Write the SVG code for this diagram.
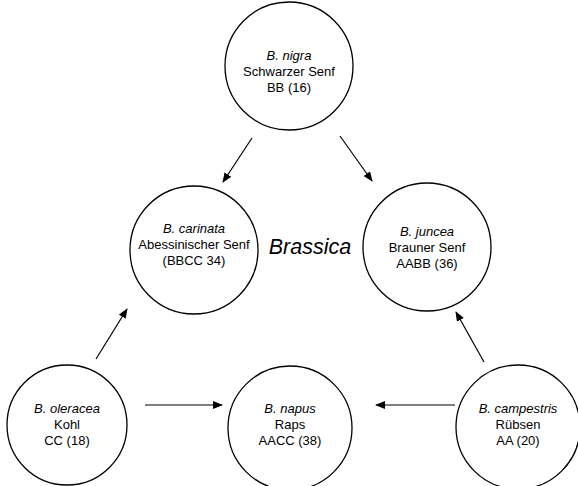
<svg xmlns="http://www.w3.org/2000/svg" width="578" height="486" viewBox="0 0 578 486">
<defs>
<marker id="ah" markerWidth="10" markerHeight="8" refX="9" refY="4" orient="auto" markerUnits="userSpaceOnUse">
<path d="M0,0 L10,4 L0,8 Z" fill="#000"/>
</marker>
<style>
.n{fill:#fff;stroke:#000;stroke-width:1.3}
.t{font-family:"Liberation Sans",Arial,sans-serif;font-size:13px;text-anchor:middle;fill:#000}
.i{font-style:italic}
.c{stroke:#000;stroke-width:1.2;fill:none;marker-end:url(#ah)}
</style>
</defs>
<rect width="578" height="486" fill="#fff"/>
<g id="connectors">
<line class="c" x1="252" y1="138" x2="223" y2="182"/>
<line class="c" x1="340" y1="136" x2="372" y2="181"/>
<line class="c" x1="96" y1="359" x2="127" y2="309"/>
<line class="c" x1="484" y1="362" x2="456" y2="312"/>
<line class="c" x1="145" y1="405" x2="222" y2="405"/>
<line class="c" x1="455" y1="405" x2="376" y2="405"/>
</g>
<g id="nigra">
<circle class="n" cx="289" cy="66" r="64"/>
<text class="t i" x="289" y="60">B. nigra</text>
<text class="t" x="289" y="76">Schwarzer Senf</text>
<text class="t" x="289" y="92">BB (16)</text>
</g>
<g id="carinata">
<circle class="n" cx="194" cy="250" r="64"/>
<text class="t i" x="194" y="233">B. carinata</text>
<text class="t" x="194" y="249">Abessinischer Senf</text>
<text class="t" x="194" y="265">(BBCC 34)</text>
</g>
<g id="juncea">
<circle class="n" cx="427" cy="247" r="64"/>
<text class="t i" x="427" y="236">B. juncea</text>
<text class="t" x="427" y="252">Brauner Senf</text>
<text class="t" x="427" y="268">AABB (36)</text>
</g>
<g id="label">
<text x="310" y="254" style="font-family:'Liberation Sans',Arial,sans-serif;font-size:21.5px;font-style:italic;text-anchor:middle">Brassica</text>
</g>
<g id="oleracea">
<circle class="n" cx="67" cy="425" r="60"/>
<text class="t i" x="67" y="413">B. oleracea</text>
<text class="t" x="67" y="429">Kohl</text>
<text class="t" x="67" y="445">CC (18)</text>
</g>
<g id="napus">
<circle class="n" cx="290" cy="428" r="62"/>
<text class="t i" x="290" y="413">B. napus</text>
<text class="t" x="290" y="429">Raps</text>
<text class="t" x="290" y="445">AACC (38)</text>
</g>
<g id="campestris">
<circle class="n" cx="518" cy="427" r="62"/>
<text class="t i" x="518" y="413">B. campestris</text>
<text class="t" x="518" y="429">Rübsen</text>
<text class="t" x="518" y="445">AA (20)</text>
</g>
</svg>
